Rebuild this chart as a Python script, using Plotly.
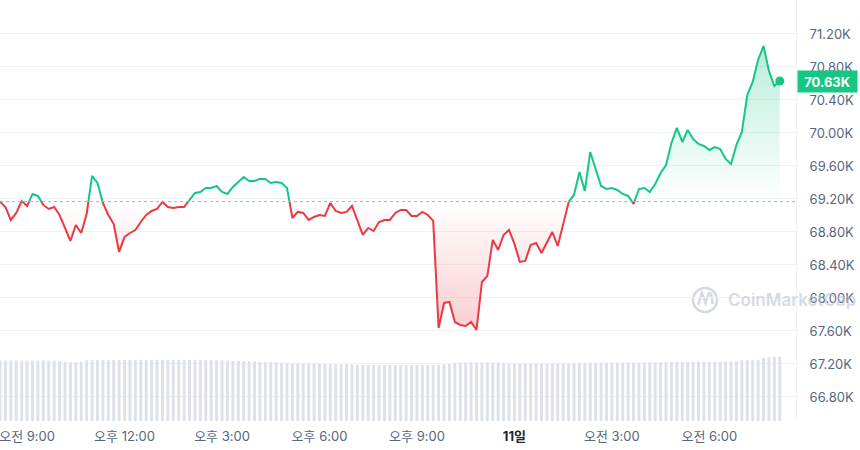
import pandas as pd
import plotly.graph_objects as go

# BTC price (USD), 10 minute steps, 10 Mar 08:10 -> 11 Mar 08:10 (KST)
start_time = "2024-03-10 08:10"
prices = [
	69168, 69103, 68946, 69031, 69176, 69115, 69261, 69237, 69128, 69079,
	69103, 69006, 68849, 68691, 68885, 68788, 69018, 69479, 69394, 69152,
	69006, 68897, 68558, 68740, 68788, 68824, 68921, 69006, 69055, 69079,
	69164, 69103, 69091, 69103, 69103, 69188, 69273, 69285, 69333, 69333,
	69358, 69285, 69261, 69346, 69406, 69467, 69418, 69418, 69443, 69443,
	69394, 69406, 69394, 69333, 68970, 69043, 69031, 68946, 68982, 69006,
	68994, 69152, 69055, 69031, 69043, 69115, 68946, 68764, 68849, 68812,
	68921, 68946, 68946, 69031, 69067, 69067, 68994, 68994, 69043, 69006,
	68934, 67637, 67940, 67952, 67709, 67673, 67661, 67709, 67612, 68194,
	68267, 68703, 68582, 68764, 68824, 68655, 68437, 68449, 68643, 68667,
	68546, 68679, 68800, 68631, 68885, 69164, 69249, 69527, 69297, 69770,
	69552, 69358, 69321, 69333, 69309, 69261, 69237, 69140, 69321, 69333,
	69285, 69382, 69515, 69612, 69879, 70061, 69891, 70036, 69927, 69867,
	69843, 69794, 69830, 69806, 69685, 69624, 69855, 70012, 70461, 70618,
	70885, 71055, 70752, 70570, 70630,
]
# 24h volume (billions USD), same steps
volumes = [
	30.2, 30.1, 30.2, 30.3, 30.2, 30.1, 30.2, 30.2, 30.3, 30.2, 30.1, 30.0,
	29.6, 29.5, 29.5, 29.6,
	30.3, 30.4, 30.5, 30.5, 30.4, 30.5, 30.6, 30.5, 30.5, 30.6, 30.6, 30.5, 30.5,
	30.6, 30.6, 30.5, 30.6, 30.6, 30.5, 30.5, 30.6, 30.5, 30.5, 30.4, 30.4, 30.3,
	30.1, 30.0, 30.0, 30.0, 29.9, 29.8,
	29.6, 29.5, 29.5, 29.4,
	29.1, 29.0, 28.9, 28.9, 28.8, 28.9, 28.8, 28.7,
	28.5, 28.4, 28.4, 28.3, 28.4, 28.3, 28.2,
	28.1, 28.0, 28.0, 28.0, 27.9, 28.0, 28.0, 27.9, 28.0, 28.0, 28.0, 27.9, 28.0, 28.0, 28.1, 28.3, 28.6,
	29.1, 29.2, 29.2, 29.3, 29.2, 29.2, 29.3, 29.2, 29.1,
	29.0, 28.9, 28.9, 28.9, 28.8, 28.9, 28.9, 28.9, 28.8, 28.9, 28.9, 28.9, 28.9, 29.0, 29.0, 29.0,
	29.1, 29.1, 29.2, 29.1, 29.2, 29.2, 29.1, 29.2, 29.2, 29.2, 29.3, 29.3, 29.3,
	29.5, 29.6, 29.6, 29.7, 29.7, 29.6, 29.7, 29.7, 29.7, 29.6, 29.7, 29.7, 29.8, 29.8, 29.9,
	30.3, 30.4, 30.5, 30.6,
	31.6, 31.9, 32.0, 32.1,
]

tick_times = [
	"2024-03-10 09:00", "2024-03-10 12:00", "2024-03-10 15:00", "2024-03-10 18:00",
	"2024-03-10 21:00", "2024-03-11 00:00", "2024-03-11 03:00", "2024-03-11 06:00",
]
tick_labels = [
	"오전 9:00", "오후 12:00", "오후 3:00", "오후 6:00",
	"오후 9:00", "<span style='color:#222531'><b>11일</b></span>", "오전 3:00", "오전 6:00",
]
price_ticks = [66800, 67200, 67600, 68000, 68400, 68800, 69200, 69600, 70000, 70400, 70800, 71200]

GREEN = "#16c784"
RED = "#ea3943"
GREY = "#58667e"
GRID = "#eff2f5"


def split_at_base(x, y, base):
	"""Add the points where the line crosses the base so each side gets its own colour."""
	xs, ys = [x[0]], [y[0]]
	for i in range(1, len(y)):
		y0, y1 = y[i - 1], y[i]
		if (y0 - base) * (y1 - base) < 0:
			frac = (base - y0) / (y1 - y0)
			xs.append(x[i - 1] + (x[i] - x[i - 1]) * frac)
			ys.append(base)
		xs.append(x[i])
		ys.append(y[i])
	return xs, ys


times = list(pd.date_range(start_time, periods=len(prices), freq="10min"))
base = prices[0]
last = prices[-1]
xs, ys = split_at_base(times, prices, base)

fig = go.Figure()

# volume bars along the bottom
fig.add_trace(go.Bar(
	x=times, y=volumes, yaxis="y2",
	marker=dict(color="#dde2ea", line=dict(width=0)),
	width=330000, hoverinfo="skip",
))

# gradient fills, each against an invisible base line
fig.add_trace(go.Scatter(x=xs, y=[base] * len(xs), mode="lines", line=dict(width=0), hoverinfo="skip"))
fig.add_trace(go.Scatter(
	x=xs, y=[max(v, base) for v in ys], mode="lines", line=dict(width=0),
	fill="tonexty",
	fillgradient=dict(type="vertical", start=base, stop=max(prices),
		colorscale=[[0, "rgba(22,199,132,0)"], [1, "rgba(22,199,132,0.3)"]]),
	hoverinfo="skip",
))
fig.add_trace(go.Scatter(x=xs, y=[base] * len(xs), mode="lines", line=dict(width=0), hoverinfo="skip"))
fig.add_trace(go.Scatter(
	x=xs, y=[min(v, base) for v in ys], mode="lines", line=dict(width=0),
	fill="tonexty",
	fillgradient=dict(type="vertical", start=min(prices), stop=base,
		colorscale=[[0, "rgba(234,57,67,0.25)"], [1, "rgba(234,57,67,0)"]]),
	hoverinfo="skip",
))

# the price line, green above the open and red below
fig.add_trace(go.Scatter(
	x=xs, y=[v if v >= base else None for v in ys], mode="lines",
	line=dict(color=GREEN, width=2), connectgaps=False,
))
fig.add_trace(go.Scatter(
	x=xs, y=[v if v <= base else None for v in ys], mode="lines",
	line=dict(color=RED, width=2), connectgaps=False,
))
fig.add_trace(go.Scatter(
	x=[times[-1]], y=[last], mode="markers",
	marker=dict(color=GREEN, size=9),
))

# dotted line at the opening price
fig.add_shape(type="line", xref="paper", x0=0, x1=1, yref="y", y0=base, y1=base,
	line=dict(color="#a6b0c3", width=1, dash="dot"))

# current price tag
fig.add_annotation(
	x=1, xref="paper", y=last, yref="y", xanchor="left", yanchor="middle", xshift=1,
	text=f"<b>{last / 1000:.2f}K</b>", showarrow=False,
	bgcolor=GREEN, font=dict(color="white", size=13), width=55, height=17, borderpad=2,
)

# watermark
fig.add_shape(type="circle", xref="paper", yref="paper", layer="below",
	x0=693 / 796, x1=717 / 796, y0=(421 - 312) / 421, y1=(421 - 288) / 421,
	line=dict(color="#d3d9e3", width=2.5))
fig.add_shape(type="path", xref="paper", yref="paper", layer="below",
	path=f"M {698/796},{(421-305)/421} L {702/796},{(421-293)/421} L {705.5/796},{(421-303)/421} "
		f"L {709/796},{(421-293)/421} Q {712/796},{(421-292)/421} {712.5/796},{(421-304)/421}",
	line=dict(color="#d3d9e3", width=2.5))
fig.add_annotation(
	x=726 / 796, xref="paper", y=(421 - 300) / 421, yref="paper", xanchor="left", yanchor="middle",
	text="CoinMarketCap", showarrow=False,
	font=dict(color="rgba(185,194,210,0.6)", size=17, weight=600),
)

fig.update_layout(
	width=860, height=450,
	margin=dict(l=0, r=64, t=0, b=29),
	plot_bgcolor="white", paper_bgcolor="white",
	showlegend=False,
	font=dict(family="Inter, Noto Sans CJK KR, sans-serif", size=13, color=GREY),
	xaxis=dict(
		type="date",
		range=[times[0], times[0] + pd.Timedelta(minutes=1470)],
		tickvals=tick_times, ticktext=tick_labels,
		showgrid=False, zeroline=False, ticks="", ticklabelstandoff=6,
		ticklabeloverflow="allow",
	),
	yaxis=dict(
		side="right", range=[66509, 71612],
		tickvals=price_ticks, ticktext=[f"{v / 1000:.2f}K" for v in price_ticks],
		gridcolor=GRID, showline=True, linecolor=GRID, zeroline=False,
		ticks="", ticklabelstandoff=10,
	),
	yaxis2=dict(overlaying="y", range=[0, 210.5], visible=False),
)

# page margin off so the 860x450 figure fills the window
fig.write_html(
	"out.html",
	config={"displayModeBar": False},
	post_script="document.body.style.margin = '0';",
)
